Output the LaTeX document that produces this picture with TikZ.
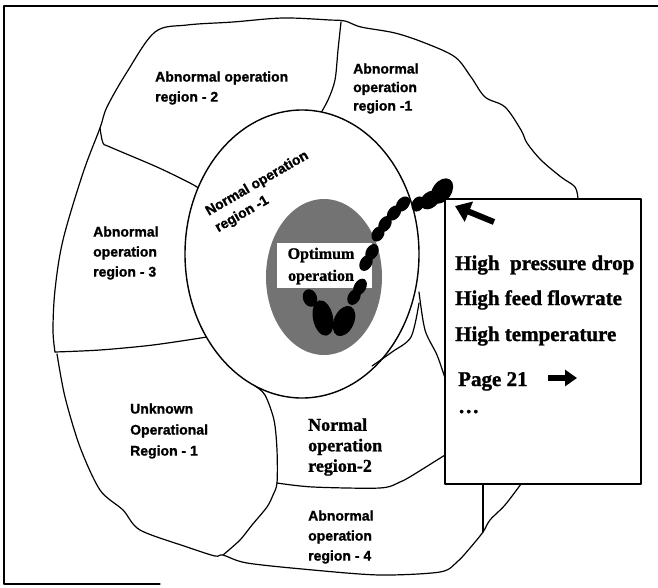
\documentclass[tikz,border=0pt]{standalone}
\usepackage{fontspec}
\setmainfont{Liberation Serif}
\newfontfamily\arialb{Liberation Sans Bold}[FakeBold=1.2]
\newfontfamily\timesb{Liberation Serif Bold}[FakeBold=1.2]
\usetikzlibrary{arrows.meta}
\begin{document}
\begin{tikzpicture}[x=1pt,y=-1pt,line join=round,line cap=round,
  bd/.style={line width=1.2pt},
  lab/.style={font=\arialb\fontsize{14}{20}\selectfont,align=left,inner sep=0pt,anchor=west},
  tlab/.style={font=\timesb\fontsize{21}{24}\selectfont,inner sep=0pt,anchor=base west},
  nlab/.style={font=\timesb\fontsize{18}{20.5}\selectfont,align=left,inner sep=0pt,anchor=west},
  blk/.style={line width=6pt}]
\useasboundingbox (0,0) rectangle (658,587);
% frame
\draw[line width=1.3pt] (658,6) -- (4,6) -- (4,584) -- (160,584);
% outer boundary (top and left)
\draw[bd] plot[smooth,tension=0.55] coordinates {(55,352) (53,330) (55,290) (63,240) (83,173) (100,128) (107,107) (127,72) (155,32) (187,25) (233,22) (283,18) (330,20) (345,21) (361,27) (395,33) (425,43) (455,57) (471,77) (485,97) (505,107) (521,130) (527,143) (541,160) (561,177) (575,187) (578,199)};
% divider region 1 / region 2
\draw[bd] plot[smooth,tension=0.5] coordinates {(341,22) (338,50) (335,80) (328,100) (318,118)};
% divider region 2 / region 3
\draw[bd] plot[smooth,tension=0.5] coordinates {(100,128) (103,143) (110,147) (157,167) (190,183) (200,189)};
% divider region 3 / unknown
\draw[bd] plot[smooth,tension=0.5] coordinates {(55,352) (100,350) (153,345) (207,337)};
% unknown left and bottom of region 4
\draw[bd] plot[smooth,tension=0.5] coordinates {(57,354) (65,397) (80,447) (100,490) (123,510) (140,530) (187,547) (215,556) (223,555) (247,563) (313,570) (380,575) (440,572) (457,562) (470,548) (483,532) (490,520) (505,505) (521,484)};
% unknown right edge
\draw[bd] plot[smooth,tension=0.5] coordinates {(255,386) (265,395) (274,420) (277,450) (277,483) (273,495) (267,507) (252,525) (240,540) (223,555)};
% normal 2 / abnormal 4 divider
\draw[bd] plot[smooth,tension=0.5] coordinates {(277,483) (313,487) (380,488) (400,482) (413,475) (445,455)};
% vertical line below box
\draw[bd] (483,484) -- (483,532);
% normal operation region 1 circle
\draw[line width=1.4pt,fill=white] (302,254) ellipse [x radius=117,y radius=144];
% region 2 right edge and double line
\draw[bd] plot[smooth,tension=0.5] coordinates {(419,292) (425,330) (437,355) (445,378)};
\draw[bd] plot[smooth,tension=0.5] coordinates {(419,303) (411,337) (392,352) (372,366)};
% optimum region
\fill[black!55] (324,277) ellipse [x radius=58,y radius=78];
\node[fill=white,minimum width=95pt,minimum height=45pt,inner sep=0pt] (optbox) at (324.5,265) {};
\node[font=\timesb\fontsize{16}{22}\selectfont,align=center,inner sep=0pt] (opt) at (321,266) {Optimum\\operation};
% trajectory blobs
\fill (442,191) ellipse [x radius=9.5,y radius=14,rotate=-35];
\fill (430,200) ellipse [x radius=8,y radius=11,rotate=-50];
\fill (418,204) ellipse [x radius=6,y radius=8,rotate=-30];
\fill (403,204) ellipse [x radius=6,y radius=8.5,rotate=-40];
\fill (394,213) ellipse [x radius=6,y radius=8.5,rotate=-40];
\fill (385,224) ellipse [x radius=6,y radius=8.5,rotate=-30];
\fill (378,234) ellipse [x radius=6,y radius=8,rotate=-30];
\fill (372,252) ellipse [x radius=6,y radius=8.5,rotate=-30];
\fill (366,263) ellipse [x radius=6,y radius=8.5,rotate=-30];
\fill (360,287) ellipse [x radius=6,y radius=9,rotate=-30];
\fill (354,297) ellipse [x radius=6,y radius=8.5,rotate=-30];
\fill (310,298) ellipse [x radius=7,y radius=9,rotate=20];
\fill (323,318) ellipse [x radius=10,y radius=18,rotate=12];
\fill (344,321) ellipse [x radius=10,y radius=16,rotate=-25];
% info box
\draw[line width=1.3pt,fill=white] (445,199) rectangle (641,484);
% arrows
\coordinate (a1s) at (494,222);
\coordinate (a1e) at (455,206);
\draw[blk,line cap=butt,-{Triangle[length=15pt,width=21pt]}] (a1s) -- (a1e);
\coordinate (a2s) at (548,378);
\coordinate (a2e) at (577,378);
\draw[blk,line cap=butt,-{Triangle[length=12pt,width=16pt]}] (a2s) -- (a2e);
% box texts
\node[tlab] (t1) at (455,270) {High~ pressure drop};
\node[tlab] (t2) at (455,305) {High feed flowrate};
\node[tlab] (t3) at (455,341) {High temperature};
\node[tlab] (t4) at (458,386) {Page 21};
\node[tlab] (t5) at (458,413) {…};
% region labels
\node[lab] (r2) at (155,88) {Abnormal operation\\region - 2};
\node[lab,font=\arialb\fontsize{14}{18.5}\selectfont] (r1) at (353,88.5) {Abnormal\\operation\\region -1};
\node[lab] (r3) at (93,253) {Abnormal\\operation\\region - 3};
\node[lab,font=\arialb\fontsize{14}{21}\selectfont] (u1) at (130,431) {Unknown\\Operational\\Region - 1};
\node[lab] (r4) at (308,537) {Abnormal\\operation\\region - 4};
\node[nlab] (n2) at (308,447) {Normal\\operation\\region-2};
\node[lab,anchor=center,rotate=30,font=\arialb\fontsize{14}{19}\selectfont] (n1) at (262,192) {Normal operation\\region -1};
\end{tikzpicture}
\end{document}
